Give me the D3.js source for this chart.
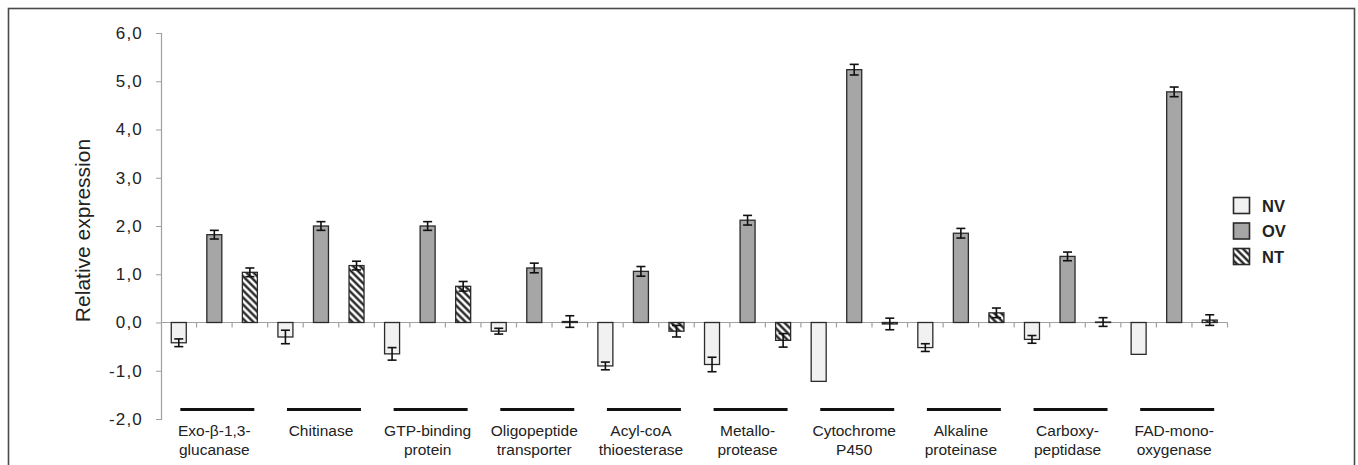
<!DOCTYPE html>
<html>
<head>
<meta charset="utf-8">
<script src="https://cdn.jsdelivr.net/npm/d3@7"></script>
<style>
  html, body { margin: 0; padding: 0; background: #fff; }
  svg { display: block; }
</style>
</head>
<body>
<svg id="chart" width="1358" height="465"></svg>
<script>
// ---- data ----
const categories = [
  ["Exo-β-1,3-", "glucanase"],
  ["Chitinase"],
  ["GTP-binding", "protein"],
  ["Oligopeptide", "transporter"],
  ["Acyl-coA", "thioesterase"],
  ["Metallo-", "protease"],
  ["Cytochrome", "P450"],
  ["Alkaline", "proteinase"],
  ["Carboxy-", "peptidase"],
  ["FAD-mono-", "oxygenase"]
];
const seriesNames = ["NV", "OV", "NT"];
const nvValues = [-0.42, -0.30, -0.65, -0.18, -0.90, -0.87, -1.22, -0.52, -0.35, -0.66];
const nvErrors = [0.08, 0.14, 0.13, 0.06, 0.08, 0.15, 0, 0.08, 0.08, 0];
const ovValues = [1.82, 2.00, 2.00, 1.13, 1.06, 2.12, 5.24, 1.85, 1.37, 4.78];
const ovErrors = [0.09, 0.09, 0.09, 0.10, 0.10, 0.10, 0.11, 0.10, 0.09, 0.10];
const ntValues = [1.04, 1.18, 0.75, 0.02, -0.18, -0.37, -0.03, 0.20, 0.01, 0.05];
const ntErrors = [0.09, 0.09, 0.10, 0.12, 0.12, 0.14, 0.12, 0.10, 0.09, 0.11];
const yTicks = [-2, -1, 0, 1, 2, 3, 4, 5, 6];

const seriesValues = [nvValues, ovValues, ntValues];
const seriesErrors = [nvErrors, ovErrors, ntErrors];

// ---- layout ----
const svg = d3.select("#chart");
const font = "'Liberation Sans', Arial, sans-serif";

// outer frame
svg.append("rect")
  .attr("x", 8.5).attr("y", 8.5)
  .attr("width", 1346).attr("height", 470)
  .attr("fill", "none").attr("stroke", "#4a4a4a").attr("stroke-width", 1.6);

const defs = svg.append("defs");
const pat = defs.append("pattern")
  .attr("id", "hatch")
  .attr("patternUnits", "userSpaceOnUse")
  .attr("width", 5).attr("height", 5)
  .attr("patternTransform", "rotate(-45)");
pat.append("rect").attr("width", 5).attr("height", 5).attr("fill", "#fff");
pat.append("line").attr("x1", 1.5).attr("y1", 0).attr("x2", 1.5).attr("y2", 5)
  .attr("stroke", "#111").attr("stroke-width", 2.2);

const fills = ["#f1f1f1", "#a6a6a6", "url(#hatch)"];

const nSlots = categories.length * 3;
const x = d3.scaleBand().domain(d3.range(nSlots)).range([161, 1227.5]).padding(0);
const y = d3.scaleLinear().domain([-2, 6]).range([419, 33]);
const barW = 15;

// y axis
const yAxis = d3.axisLeft(y).tickValues(yTicks).tickSize(5)
  .tickFormat(d => d3.format(".1f")(d).replace(".", ",").replace("−", "-"));
const gy = svg.append("g").attr("transform", "translate(161,0)").call(yAxis);
gy.select(".domain").attr("stroke", "#a0a0a0").attr("stroke-width", 1.2);
gy.selectAll(".tick line").attr("stroke", "#a0a0a0");
gy.selectAll(".tick text")
  .attr("x", -18)
  .attr("font-family", font).attr("font-size", 17)
  .attr("letter-spacing", 1.2)
  .attr("fill", "#222");

// y title
svg.append("text")
  .attr("transform", `translate(90,${(133 + 328) / 2}) rotate(-90)`)
  .attr("text-anchor", "middle")
  .attr("font-family", font).attr("font-size", 21)
  .attr("fill", "#222")
  .text("Relative expression");

// zero line with slot ticks
const x0 = x.range()[0], x1 = x.range()[1];
svg.append("line")
  .attr("x1", x0).attr("x2", x1).attr("y1", y(0)).attr("y2", y(0))
  .attr("stroke", "#a0a0a0").attr("stroke-width", 1.2);
svg.append("g").selectAll("line")
  .data(d3.range(1, nSlots + 1))
  .join("line")
  .attr("x1", k => x0 + k * x.bandwidth())
  .attr("x2", k => x0 + k * x.bandwidth())
  .attr("y1", y(0)).attr("y2", y(0) + 5)
  .attr("stroke", "#a0a0a0").attr("stroke-width", 1.2);

// bars
const bars = [];
categories.forEach((c, i) => {
  seriesNames.forEach((s, j) => {
    bars.push({ slot: i * 3 + j, s: j, v: seriesValues[j][i], e: seriesErrors[j][i] });
  });
});

const cx = d => x(d.slot) + x.bandwidth() / 2;

svg.append("g").selectAll("rect")
  .data(bars)
  .join("rect")
  .attr("x", d => cx(d) - barW / 2)
  .attr("width", barW)
  .attr("y", d => Math.min(y(d.v), y(0)))
  .attr("height", d => Math.abs(y(d.v) - y(0)))
  .attr("fill", d => fills[d.s])
  .attr("stroke", "#2a2a2a")
  .attr("stroke-width", 1.3);

// error bars
const eb = svg.append("g").selectAll("g")
  .data(bars.filter(d => d.e > 0))
  .join("g")
  .attr("stroke", "#111").attr("stroke-width", 1.6);
eb.append("line")
  .attr("x1", cx).attr("x2", cx)
  .attr("y1", d => y(d.v + d.e)).attr("y2", d => y(d.v - d.e));
eb.append("line")
  .attr("x1", d => cx(d) - 4.5).attr("x2", d => cx(d) + 4.5)
  .attr("y1", d => y(d.v + d.e)).attr("y2", d => y(d.v + d.e));
eb.append("line")
  .attr("x1", d => cx(d) - 4.5).attr("x2", d => cx(d) + 4.5)
  .attr("y1", d => y(d.v - d.e)).attr("y2", d => y(d.v - d.e));

// group underlines and labels
const gc = i => x(i * 3 + 1) + x.bandwidth() / 2;
svg.append("g").selectAll("line")
  .data(categories)
  .join("line")
  .attr("x1", (c, i) => gc(i) + 3 - 37)
  .attr("x2", (c, i) => gc(i) + 3 + 37)
  .attr("y1", 409.5).attr("y2", 409.5)
  .attr("stroke", "#111").attr("stroke-width", 3);

const lbl = svg.append("g").selectAll("text")
  .data(categories)
  .join("text")
  .attr("x", (c, i) => gc(i))
  .attr("y", 436)
  .attr("text-anchor", "middle")
  .attr("font-family", font).attr("font-size", 15.5)
  .attr("fill", "#222");
lbl.selectAll("tspan")
  .data((c, i) => c.map(t => ({ t, i })))
  .join("tspan")
  .attr("x", d => gc(d.i))
  .attr("dy", (d, k) => k === 0 ? 0 : 19)
  .text(d => d.t);

// legend
const leg = svg.append("g").selectAll("g")
  .data(seriesNames)
  .join("g")
  .attr("transform", (d, i) => `translate(1233.5,${197.5 + i * 25.5})`);
leg.append("rect")
  .attr("width", 16).attr("height", 16)
  .attr("fill", (d, i) => fills[i])
  .attr("stroke", "#2a2a2a").attr("stroke-width", 1.6);
leg.append("text")
  .attr("x", 28.5).attr("y", 14)
  .attr("font-family", font).attr("font-size", 16.5).attr("font-weight", "bold")
  .attr("fill", "#222")
  .text(d => d);
</script>
</body>
</html>
